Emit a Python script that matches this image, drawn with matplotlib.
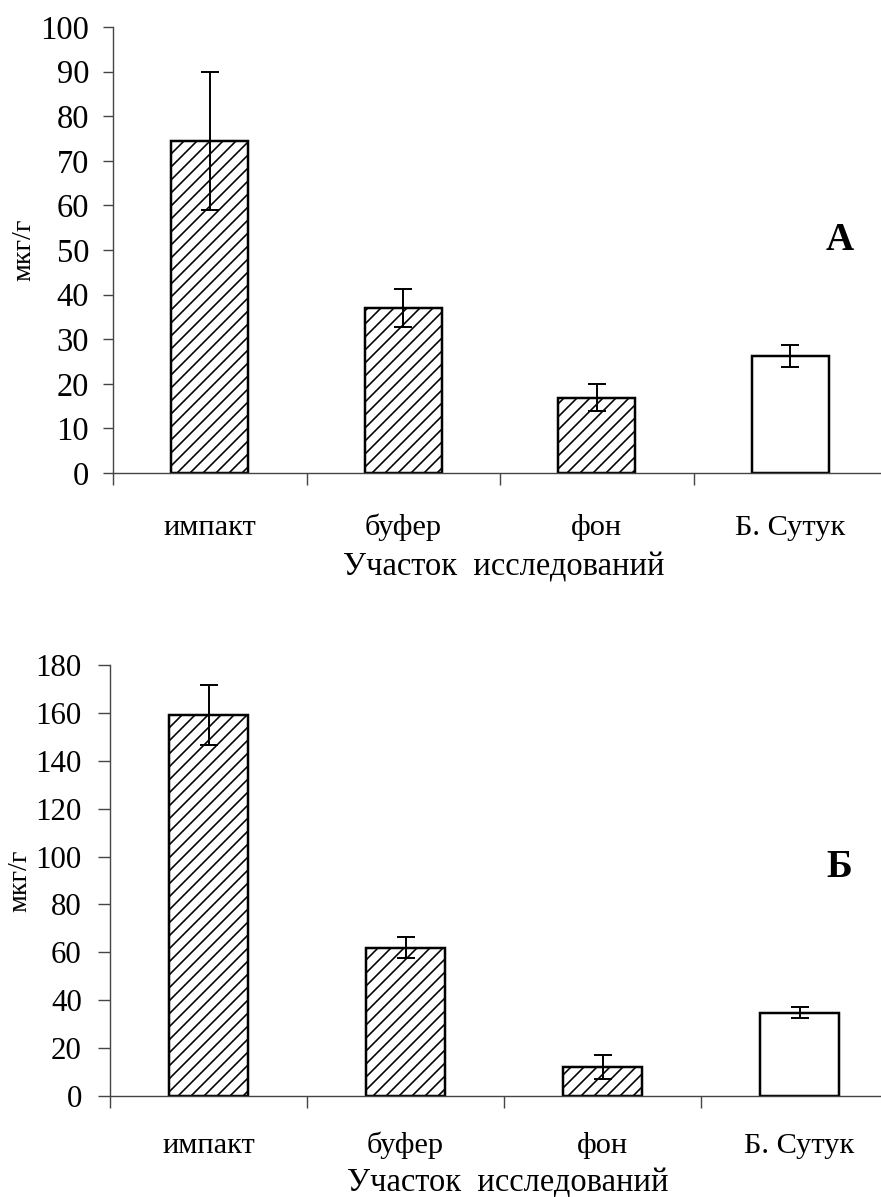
import matplotlib
matplotlib.use('Agg')
import matplotlib.pyplot as plt
import numpy as np

# study sites and measured concentrations (mean +/- error), mkg/g
sites = ['импакт', 'буфер', 'фон', 'Б. Сутук']
vals_a = [74.5, 37.0, 16.9, 26.3]
err_a = [15.5, 4.3, 3.0, 2.5]
vals_b = [159.2, 62.0, 12.0, 34.8]
err_b = [12.6, 4.4, 5.0, 2.3]
hatched = [True, True, True, False]

ymax_a, ystep_a = 100, 10
ymax_b, ystep_b = 180, 20

plt.rcParams['font.family'] = ['Liberation Serif', 'DejaVu Serif']
plt.rcParams['hatch.linewidth'] = 1.5

DPI = 78
fig = plt.figure(figsize=(881 / DPI, 1197 / DPI), dpi=DPI)

axis_col = '#454545'


def panel(rect, vals, errs, ymax, ystep, letter, letter_xy, ytick_len, ytick_pad,
          ytick_size, ylab_x, cat_pad, xlab_y):
  ax = fig.add_axes(rect)
  x = np.arange(len(sites))
  for i in range(len(sites)):
    ax.bar(x[i], vals[i], width=0.4, color='white', edgecolor='black',
           linewidth=2.3, hatch='//' if hatched[i] else None, zorder=2)
  ax.errorbar(x, vals, yerr=errs, fmt='none', ecolor='black', elinewidth=1.8,
              capsize=8.5, capthick=1.8, zorder=3)

  ax.set_xlim(-0.5, len(sites) - 0.5)
  ax.set_ylim(0, ymax)
  ax.set_yticks(np.arange(0, ymax + 1, ystep))

  for s in ['top', 'right']:
    ax.spines[s].set_visible(False)
  for s in ['left', 'bottom']:
    ax.spines[s].set_color(axis_col)
    ax.spines[s].set_linewidth(1.3)

  # boundaries between sites get the tick marks, names sit in between
  ax.set_xticks(np.arange(-0.5, len(sites) - 0.4, 1.0))
  ax.set_xticklabels([])
  ax.set_xticks(x, minor=True)
  ax.set_xticklabels(sites, minor=True, fontsize=28)
  for lab in ax.get_xticklabels(minor=True):
    lab.set_va('baseline')
  ax.tick_params(axis='x', which='major', direction='out', length=11,
                 width=1.3, color=axis_col)
  ax.tick_params(axis='x', which='minor', length=0, pad=cat_pad)
  ax.tick_params(axis='y', direction='out', length=ytick_len, width=1.3,
                 color=axis_col, labelsize=ytick_size, pad=ytick_pad)

  ax.set_xlabel('Участок  исследований', fontsize=30, va='baseline')
  ax.xaxis.set_label_coords(0.505, xlab_y)
  ax.set_ylabel('мкг/г', fontsize=26)
  ax.yaxis.set_label_coords(ylab_x, 0.5)
  ax.text(letter_xy[0], letter_xy[1], letter, transform=ax.transAxes,
          fontsize=36, fontweight='bold', ha='center', va='center')
  return ax


ax_a = panel([113 / 881, 1 - 473 / 1197, 774 / 881, 446 / 1197],
             vals_a, err_a, ymax_a, ystep_a, 'А', (0.939, 0.522), 9, 13, 30,
             -0.099, 57, -102 / 446)
ax_b = panel([110 / 881, 1 - 1096 / 1197, 788 / 881, 431 / 1197],
             vals_b, err_b, ymax_b, ystep_b, 'Б', (0.926, 0.531), 11, 15, 28.5,
             -0.099, 53, -95 / 431)

fig.savefig('out.png', dpi=DPI)
